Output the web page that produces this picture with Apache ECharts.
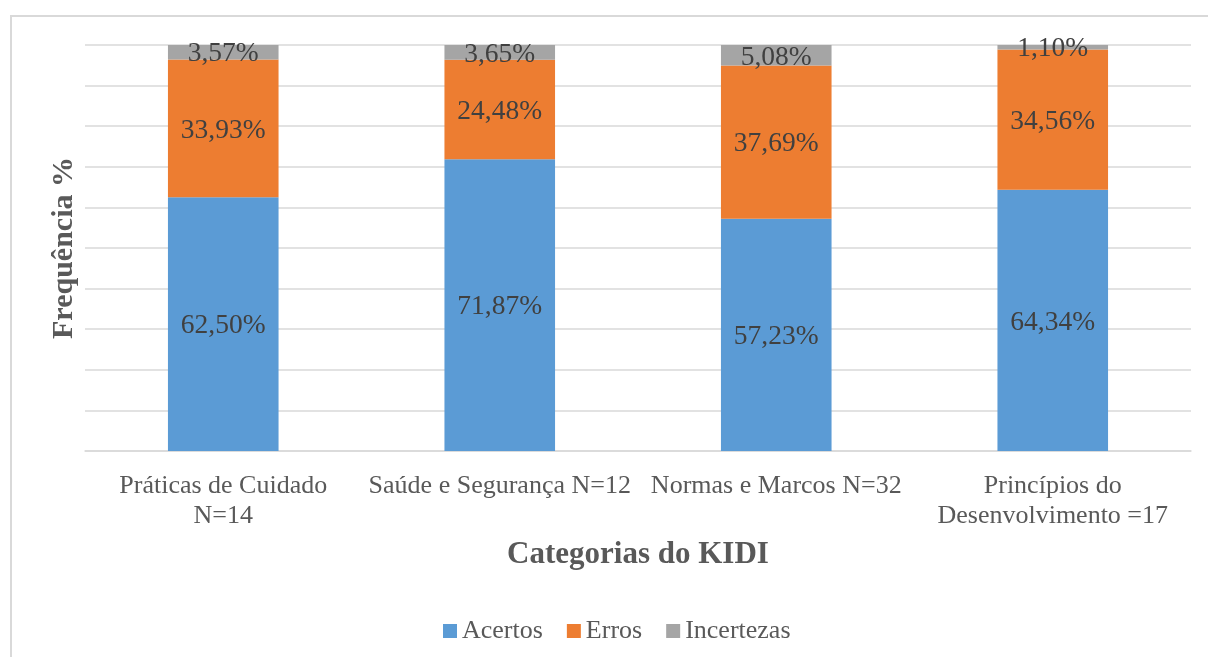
<!DOCTYPE html>
<html><head><meta charset="utf-8">
<script src="https://cdn.jsdelivr.net/npm/echarts@6/dist/echarts.min.js"></script>
<style>html,body{margin:0;padding:0;background:#fff}#c{width:1208px;height:657px}</style>
</head><body><div id="c"></div>
<script>
const categories = ['Práticas de Cuidado\nN=14', 'Saúde e Segurança N=12', 'Normas e Marcos N=32', 'Princípios do\nDesenvolvimento =17'];
const acertos = [62.50, 71.87, 57.23, 64.34];
const erros = [33.93, 24.48, 37.69, 34.56];
const incertezas = [3.57, 3.65, 5.08, 1.10];
const seriesNames = ['Acertos', 'Erros', 'Incertezas'];

const FONT = "'Liberation Serif', 'Times New Roman', serif";
const fmt = p => p.value.toFixed(2).replace('.', ',') + '%';
const lbl = {show: true, position: 'inside', offset: [0, 2], formatter: fmt, color: '#404040', fontSize: 27.5, fontFamily: FONT};

const chart = echarts.init(document.getElementById('c'));
chart.setOption({
  animation: false,
  textStyle: {fontFamily: FONT},
  graphic: [{type: 'rect', shape: {x: 11, y: 16, width: 1220, height: 660}, style: {fill: 'none', stroke: '#d9d9d9', lineWidth: 2}, z: -1}],
  grid: {left: 85, right: 17, top: 45, bottom: 206},
  legend: {
    bottom: 8, left: 438, itemWidth: 14, itemHeight: 14, itemGap: 24, icon: 'rect',
    textStyle: {color: '#595959', fontSize: 26, fontFamily: FONT},
    data: seriesNames
  },
  xAxis: {
    type: 'category', data: categories,
    axisLine: {lineStyle: {color: '#d9d9d9', width: 1.5}},
    axisTick: {show: false},
    axisLabel: {color: '#595959', fontSize: 26, fontFamily: FONT, lineHeight: 30, margin: 20, interval: 0},
    name: 'Categorias do KIDI', nameLocation: 'middle', nameGap: 88,
    nameTextStyle: {color: '#595959', fontSize: 31, fontWeight: 'bold', fontFamily: FONT}
  },
  yAxis: {
    type: 'value', min: 0, max: 100, interval: 10,
    axisLabel: {show: false}, axisLine: {show: false}, axisTick: {show: false},
    splitLine: {lineStyle: {color: '#d9d9d9', width: 1.5}},
    name: 'Frequência %', nameLocation: 'middle', nameGap: 6, nameRotate: 90,
    nameTextStyle: {color: '#595959', fontSize: 30, fontWeight: 'bold', fontFamily: FONT}
  },
  series: [
    {name: seriesNames[0], type: 'bar', stack: 't', data: acertos, barWidth: '40%', itemStyle: {color: '#5B9BD5'}, label: lbl},
    {name: seriesNames[1], type: 'bar', stack: 't', data: erros, barWidth: '40%', itemStyle: {color: '#ED7D31'}, label: lbl},
    {name: seriesNames[2], type: 'bar', stack: 't', data: incertezas, barWidth: '40%', itemStyle: {color: '#A5A5A5'}, label: lbl}
  ]
});
</script></body></html>
